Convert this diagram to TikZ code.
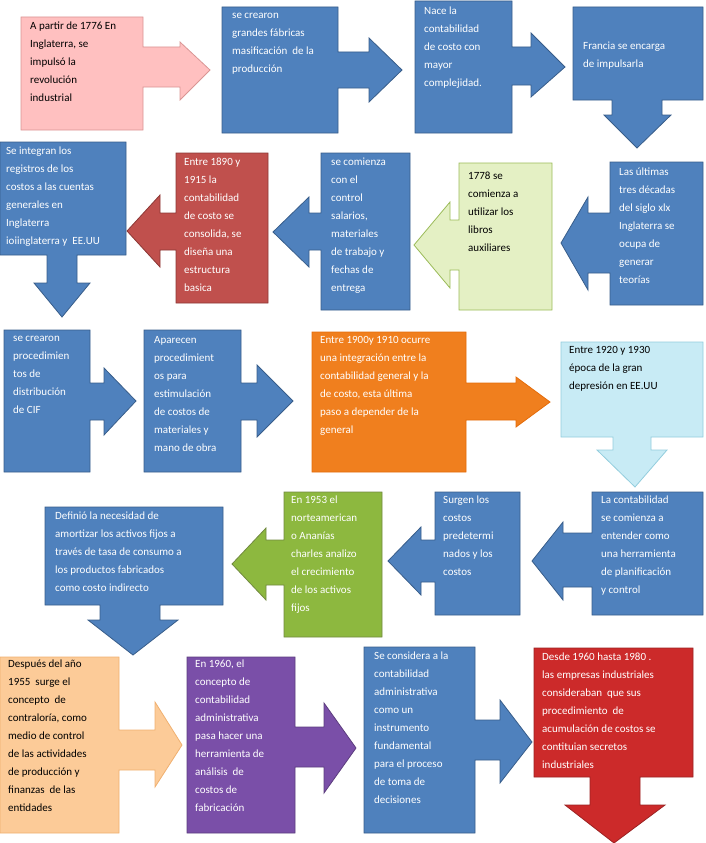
\documentclass[tikz,border=0pt]{standalone}
\usepackage{fontspec}
\setmainfont{Carlito}
\definecolor{bl}{HTML}{4F81BD}\definecolor{ble}{HTML}{385D8A}
\definecolor{pk}{HTML}{FFC0C0}\definecolor{pke}{HTML}{D99594}
\definecolor{rd}{HTML}{C0504D}\definecolor{rde}{HTML}{8C3836}
\definecolor{lg}{HTML}{E4F0C4}\definecolor{lge}{HTML}{9BBB59}
\definecolor{og}{HTML}{F07F1E}\definecolor{oge}{HTML}{E46C0A}
\definecolor{lb}{HTML}{C8EBF5}\definecolor{lbe}{HTML}{93CDDD}
\definecolor{gr}{HTML}{8DB83F}\definecolor{gre}{HTML}{71893F}
\definecolor{lo}{HTML}{FCCB98}\definecolor{loe}{HTML}{F0B070}
\definecolor{pu}{HTML}{7A4FA8}\definecolor{pue}{HTML}{5C3D7E}
\definecolor{r2}{HTML}{CC2A2A}\definecolor{r2e}{HTML}{9B2222}
\tikzset{
 sh/.style 2 args={fill=#1,draw=#2,line width=0.8pt},
 tw/.style={anchor=north west,align=left,text=white,font=\fontsize{11}{18}\selectfont,inner sep=0pt},
 tb/.style={tw,text=black}
}
\begin{document}
\begin{tikzpicture}[x=1pt,y=-1pt]
\useasboundingbox (0,0) rectangle (706,843);
% row 1
\draw[sh={pk}{pke}] (21,17)--(143,17)--(143,47)--(180,47)--(180,42)--(210,70)--(180,100)--(180,87)--(143,87)--(143,130)--(21,130)--cycle;
\node[tb] (n1) at (30,22) {A partir de 1776 En\\Inglaterra, se\\impulsó la\\revolución\\industrial};
\draw[sh={bl}{ble}] (222,7)--(338,7)--(338,52)--(369,52)--(369,38)--(402,70)--(369,102)--(369,88)--(338,88)--(338,133)--(222,133)--cycle;
\node[tw] (n2) at (232,13) {se crearon\\grandes fábricas\\masificación\ \ de la\\producción};
\draw[sh={bl}{ble}] (415,1)--(512,1)--(512,47)--(531,47)--(531,33)--(565,67)--(531,97)--(531,85)--(512,85)--(512,133)--(415,133)--cycle;
\node[tw] (n3) at (424,7) {Nace la\\contabilidad\\de costo con\\mayor\\complejidad.};
\draw[sh={bl}{ble}] (573,7)--(703,7)--(703,100)--(662,100)--(662,115)--(671,115)--(637,148)--(604,115)--(612,115)--(612,100)--(573,100)--cycle;
\node[tw] (n4) at (583,42) {Francia se encarga\\de impulsarla};
% row 2
\draw[sh={bl}{ble}] (703,162)--(610,162)--(610,213)--(588,213)--(588,197)--(561,243)--(588,290)--(588,273)--(610,273)--(610,305)--(703,305)--cycle;
\node[tw] (n5) at (619,168) {Las últimas\\tres décadas\\del siglo xlx\\Inglaterra se\\ocupa de\\generar\\teorías};
\draw[sh={lg}{lge}] (552,163)--(459,163)--(459,220)--(450,220)--(450,202)--(414,245)--(450,288)--(450,270)--(459,270)--(459,310)--(552,310)--cycle;
\node[tb] (n6) at (468,172) {1778 se\\comienza a\\utilizar los\\libros\\auxiliares};
\draw[sh={bl}{ble}] (410,153)--(321,153)--(321,213)--(309,213)--(309,197)--(273,232)--(309,267)--(309,250)--(321,250)--(321,310)--(410,310)--cycle;
\node[tw] (n7) at (331,158) {se comienza\\con el\\control\\salarios,\\materiales\\de trabajo y\\fechas de\\entrega};
\draw[sh={rd}{rde}] (268,153)--(176,153)--(176,213)--(160,213)--(160,195)--(127,231)--(160,267)--(160,250)--(176,250)--(176,303)--(268,303)--cycle;
\node[tw] (n8) at (184,158) {Entre 1890 y\\1915 la\\contabilidad\\de costo se\\consolida, se\\diseña una\\estructura\\basica};
\draw[sh={bl}{ble}] (0,142)--(126,142)--(126,255)--(77,255)--(77,283)--(90,283)--(62,317)--(34,283)--(47,283)--(47,255)--(0,255)--cycle;
\node[tw] (n9) at (6,147) {Se integran los\\registros de los\\costos a las cuentas\\generales en\\Inglaterra\\ioiinglaterra y\ \ EE.UU};
% row 3
\draw[sh={bl}{ble}] (4,330)--(90,330)--(90,383)--(104,383)--(104,368)--(136,401)--(104,435)--(104,420)--(90,420)--(90,472)--(4,472)--cycle;
\node[tw] (n10) at (13,336) {se crearon\\procedimien\\tos de\\distribución\\de CIF};
\draw[sh={bl}{ble}] (144,330)--(241,330)--(241,383)--(257,383)--(257,365)--(293,401)--(257,437)--(257,420)--(241,420)--(241,472)--(144,472)--cycle;
\node[tw] (n11) at (154,336) {Aparecen\\procedimient\\os para\\estimulación\\de costos de\\materiales y\\mano de obra};
\draw[sh={og}{oge}] (312,332)--(466,332)--(466,383)--(516,383)--(516,377)--(550,402)--(516,427)--(516,420)--(466,420)--(466,472)--(312,472)--cycle;
\node[tw] (n12) at (320,336) {Entre 1900y 1910 ocurre\\una integración entre la\\contabilidad general y la\\de costo, esta última\\paso a depender de la\\general};
\draw[sh={lb}{lbe}] (561,342)--(703,342)--(703,437)--(651,437)--(651,450)--(667,450)--(635,487)--(597,450)--(613,450)--(613,437)--(561,437)--cycle;
\node[tb] (n13) at (569,346) {Entre 1920 y 1930\\época de la gran\\depresión en EE.UU};
% row 4
\draw[sh={bl}{ble}] (703,492)--(592,492)--(592,533)--(563,533)--(563,522)--(532,561)--(563,600)--(563,587)--(592,587)--(592,615)--(703,615)--cycle;
\node[tw] (n14) at (601,496) {La contabilidad\\se comienza a\\entender como\\una herramienta\\de planificación\\y control};
\draw[sh={bl}{ble}] (520,492)--(435,492)--(435,540)--(421,540)--(421,527)--(388,561)--(421,595)--(421,582)--(435,582)--(435,615)--(520,615)--cycle;
\node[tw] (n15) at (443,496) {Surgen los\\costos\\predetermi\\nados y los\\costos};
\draw[sh={gr}{gre}] (382,492)--(284,492)--(284,540)--(266,540)--(266,528)--(232,564)--(266,600)--(266,585)--(284,585)--(284,637)--(382,637)--cycle;
\node[tw] (n16) at (291,496) {En 1953 el\\norteamerican\\o Ananías\\charles analizo\\el crecimiento\\de los activos\\fijos};
\draw[sh={bl}{ble}] (45,507)--(223,507)--(223,605)--(160,605)--(160,620)--(178,620)--(133,655)--(88,620)--(100,620)--(100,605)--(45,605)--cycle;
\node[tw] (n17) at (55,512) {Definió la necesidad de\\amortizar los activos fijos a\\través de tasa de consumo a\\los productos fabricados\\como costo indirecto};
% row 5
\draw[sh={lo}{loe}] (0,657)--(119,657)--(119,730)--(155,730)--(155,702)--(182,745)--(155,787)--(155,770)--(119,770)--(119,833)--(0,833)--cycle;
\node[tb] (n18) at (8,660) {Después del año\\1955\ \ surge el\\concepto\ \ de\\contraloría, como\\medio de control\\de las actividades\\de producción y\\finanzas\ \ de las\\entidades};
\draw[sh={pu}{pue}] (187,657)--(295,657)--(295,727)--(324,727)--(324,703)--(356,748)--(324,793)--(324,767)--(295,767)--(295,833)--(187,833)--cycle;
\node[tw] (n19) at (195,660) {En 1960, el\\concepto de\\contabilidad\\administrativa\\pasa hacer una\\herramienta de\\análisis\ \ de\\costos de\\fabricación};
\draw[sh={bl}{ble}] (364,647)--(475,647)--(475,720)--(500,720)--(500,700)--(532,742)--(500,783)--(500,760)--(475,760)--(475,833)--(364,833)--cycle;
\node[tw] (n20) at (374,652) {Se considera a la\\contabilidad\\administrativa\\como un\\instrumento\\fundamental\\para el proceso\\de toma de\\decisiones};
\draw[sh={r2}{r2e}] (534,648)--(693,648)--(693,777)--(640,777)--(640,805)--(665,805)--(614,843)--(565,805)--(590,805)--(590,777)--(534,777)--cycle;
\node[tw] (n21) at (542,653) {Desde 1960 hasta 1980 .\\las empresas industriales\\consideraban\ \ que sus\\procedimiento\ \ de\\acumulación de costos se\\contituian secretos\\industriales};
\end{tikzpicture}
\end{document}
